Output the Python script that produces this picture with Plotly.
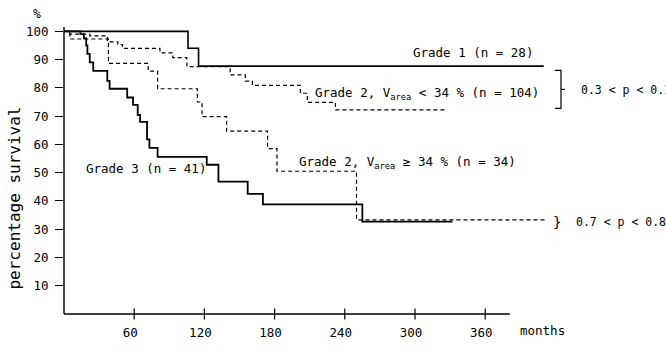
import plotly.graph_objects as go

# ---- data (months, % survival) ----
g1_months = [0, 106, 115, 410]
g1_surv = [100, 94, 87.7, 87.7]

g2lo_months = [0, 5, 22, 37, 46, 50, 82, 93, 105, 142, 155, 161, 202, 208, 232, 327]
g2lo_surv = [100, 99, 98.4, 96.3, 95.3, 94, 92.4, 90.7, 87.5, 84.6, 82.4, 80.9, 78.1, 74.9, 72.2, 72.2]

g2hi_months = [0, 5, 38, 72, 80, 114, 118, 139, 174, 182, 250, 413]
g2hi_surv = [100, 97.3, 88.7, 85.9, 79.7, 75, 69.8, 64.7, 58.5, 50.5, 33.3, 33.3]

g3_months = [0, 14, 17, 19, 20, 22, 25, 37, 39, 54, 59, 63, 65, 71, 73, 80, 122, 132, 157, 170, 255, 332]
g3_surv = [100, 99, 97.5, 95, 92, 89, 86, 82.5, 79.7, 76.6, 74, 70.4, 68, 61.8, 58.8, 55.6, 52.8, 46.8, 42.5, 38.8, 32.7, 32.7]

x_ticks = [60, 120, 180, 240, 300, 360]
y_ticks = [10, 20, 30, 40, 50, 60, 70, 80, 90, 100]

FONT = "DejaVu Sans Mono"
W, H = 666, 352
ML, MR, MT, MB = 64, 111, 20, 29
PW, PH = W - ML - MR, H - MT - MB


def px(x):
    return (x - ML) / PW


def py(y):
    return (H - MB - y) / PH


fig = go.Figure()

dash = "4px,3px"
fig.add_trace(go.Scatter(x=g1_months, y=g1_surv, mode="lines", line_shape="hv",
                         line=dict(color="black", width=1.6), cliponaxis=False))
fig.add_trace(go.Scatter(x=g2lo_months, y=g2lo_surv, mode="lines", line_shape="hv",
                         line=dict(color="black", width=1.2, dash=dash), cliponaxis=False))
fig.add_trace(go.Scatter(x=g2hi_months, y=g2hi_surv, mode="lines", line_shape="hv",
                         line=dict(color="black", width=1.2, dash=dash), cliponaxis=False))
fig.add_trace(go.Scatter(x=g3_months, y=g3_surv, mode="lines", line_shape="hv",
                         line=dict(color="black", width=1.8), cliponaxis=False))
# x tick crosses
fig.add_trace(go.Scatter(x=x_ticks, y=[0] * len(x_ticks), mode="markers", cliponaxis=False,
                         marker=dict(symbol="line-ns", size=8,
                                     line=dict(color="black", width=1.2))))

# axis lines
fig.add_shape(type="line", xref="x", yref="paper", x0=0, x1=381, y0=0, y1=0,
              line=dict(color="black", width=1.4))
fig.add_shape(type="line", xref="paper", yref="y", x0=0, x1=0, y0=0, y1=101.5,
              line=dict(color="black", width=1.4))

# bracket for the upper pair
bx, btop, bbot = 561, 72, 111
fig.add_shape(type="path", xref="paper", yref="paper",
              path=f"M {px(555)} {py(btop)} L {px(bx)} {py(btop)} L {px(bx)} {py(bbot)} L {px(555)} {py(bbot)}",
              line=dict(color="black", width=1.2))
fig.add_shape(type="line", xref="paper", yref="paper",
              x0=px(bx), x1=px(bx + 4), y0=py(91.5), y1=py(91.5),
              line=dict(color="black", width=1.2))

tf = dict(family=FONT, size=12.5, color="black")


def ann(text, x, y, xanchor="left", size=12.5, angle=0):
    fig.add_annotation(text=text, x=px(x), y=py(y), xref="paper", yref="paper",
                       xanchor=xanchor, yanchor="middle", showarrow=False,
                       textangle=angle, font=dict(family=FONT, size=size, color="black"))


ann("Grade 1 (n = 28)", 411, 54)
ann("Grade 2, V<sub>area</sub> &lt; 34 % (n = 104)", 313, 96)
ann("Grade 2, V<sub>area</sub> ≥ 34 % (n = 34)", 297, 167)
ann("Grade 3 (n = 41)", 84, 173)
ann("0.3 &lt; p &lt; 0.1", 579, 92, size=11.5)
ann("}", 551, 228, size=14)
ann("0.7 &lt; p &lt; 0.8", 574, 228, size=11.5)
ann("months", 518, 340)
ann("%", 37, 13, xanchor="center", size=13)
ann("percentage survival", 15, 204, xanchor="center", size=16, angle=-90)

fig.update_layout(
    width=W, height=H,
    margin=dict(l=ML, r=MR, t=MT, b=MB, pad=0),
    paper_bgcolor="white", plot_bgcolor="white",
    showlegend=False,
    font=tf,
    xaxis=dict(range=[0, PW / 1.17], tickvals=x_ticks, ticks="", showgrid=False,
               zeroline=False, showline=False, tickfont=dict(family=FONT, size=12.5),
               ticklabelstandoff=9, ticklabelshift=-4),
    yaxis=dict(range=[0, PH / 2.913], tickvals=y_ticks, ticks="outside", ticklen=8,
               tickcolor="black", tickwidth=1.2, showgrid=False, zeroline=False,
               showline=False, tickfont=dict(family=FONT, size=12.5),
               ticklabelstandoff=4),
)

fig.write_html("out.html")
